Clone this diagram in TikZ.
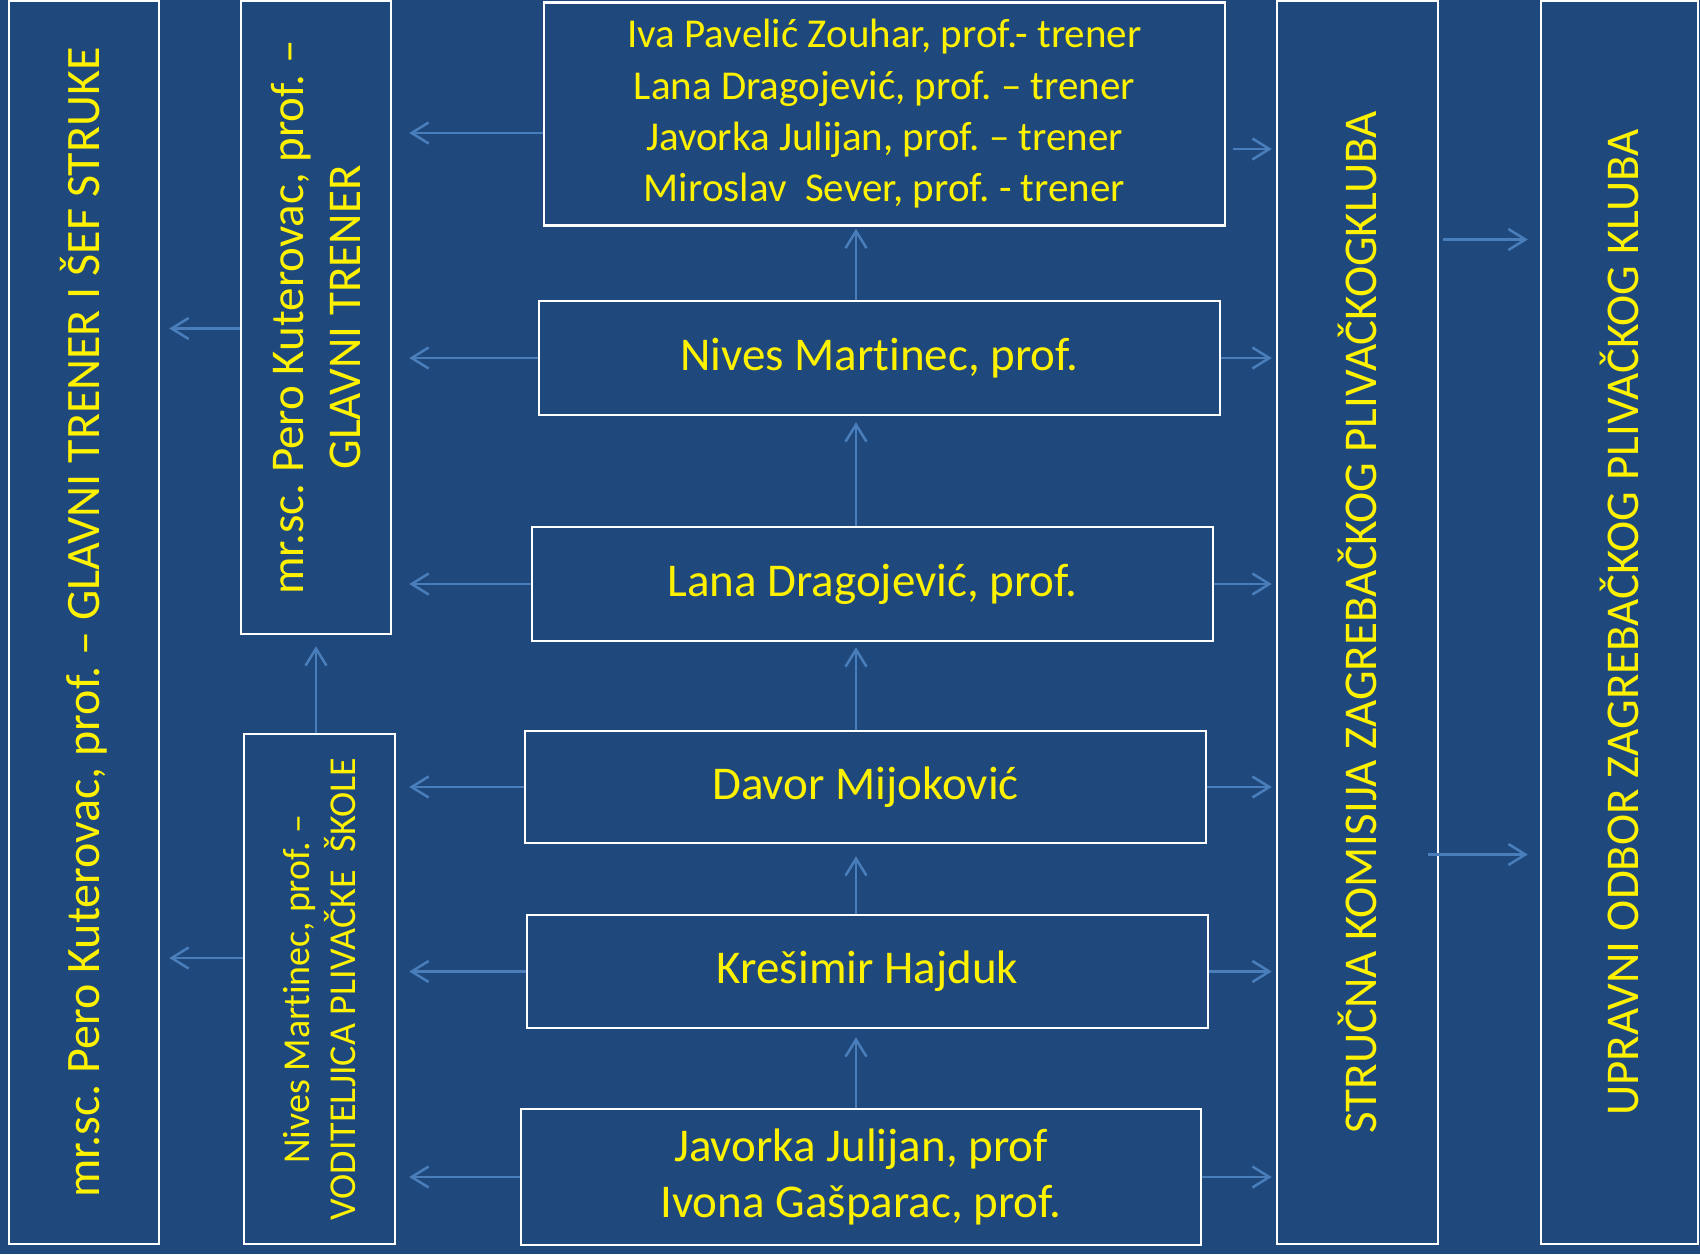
\documentclass[tikz,border=0pt]{standalone}
\usepackage{fontspec}
\setmainfont[Ligatures={NoCommon,NoContextual}, Contextuals=NoAlternate]{Carlito}
\usetikzlibrary{arrows.meta}
\definecolor{slideblue}{HTML}{1F497D}
\definecolor{linkblue}{HTML}{4A7EBB}
\frenchspacing
\begin{document}
\begin{tikzpicture}[x=1pt, y=-1pt,
        box/.style={draw=white, line width=2.5pt, fill=slideblue, text=yellow, align=center, inner sep=0pt, font=\fontsize{47}{56.4}\selectfont},
        upbox/.style={box, rotate=90},
        link/.style={draw=linkblue, line width=2.5pt, -{Straight Barb[length=17pt, width=21pt]}}]
        \fill[slideblue] (0, 0) rectangle (1700, 1254);
        \useasboundingbox (0, 0) rectangle (1700, 1254);
        \node[upbox, minimum width=1243pt, minimum height=150pt, font=\fontsize{48}{57}\selectfont] (sef) at (84, 622.5) {mr.sc. Pero Kuterovac, prof. – GLAVNI TRENER I ŠEF STRUKE};
        \node[upbox, minimum width=633pt, minimum height=150pt, font=\fontsize{47}{57.5}\selectfont] (glavni) at (316, 317.5) {mr.sc. Pero Kuterovac, prof. –\\GLAVNI TRENER};
        \node[upbox, minimum width=510pt, minimum height=151pt, font=\fontsize{38}{46.6}\selectfont] (voditeljica) at (319.5, 989) {Nives Martinec, prof. –\\VODITELJICA PLIVAČKE\ \ ŠKOLE};
        \node[box, minimum width=681pt, minimum height=223pt, font=\fontsize{41}{51.3}\selectfont] (treneri) at (884.5, 114) {Iva Pavelić Zouhar, prof.- trener\\Lana Dragojević, prof. – trener\\Javorka Julijan, prof. – trener\\Miroslav\ \ Sever, prof. - trener};
        \node[box, minimum width=681pt, minimum height=114pt] (nives) at (879.5, 358) {Nives Martinec, prof.};
        \node[box, minimum width=681pt, minimum height=114pt] (lana) at (872.5, 584) {Lana Dragojević, prof.};
        \node[box, minimum width=681pt, minimum height=112pt] (davor) at (865.5, 787) {Davor Mijoković};
        \node[box, minimum width=681pt, minimum height=113pt] (kresimir) at (867.5, 971.5) {Krešimir Hajduk};
        \node[box, minimum width=680pt, minimum height=136pt] (javorka) at (861, 1177) {Javorka Julijan, prof\\Ivona Gašparac, prof.};
        \node[upbox, minimum width=1243pt, minimum height=161pt] (strucna) at (1357.5, 622.5) {STRUČNA KOMISIJA ZAGREBAČKOG PLIVAČKOGKLUBA};
        \node[upbox, minimum width=1243pt, minimum height=157pt] (upravni) at (1619.5, 622.5) {UPRAVNI ODBOR ZAGREBAČKOG PLIVAČKOG KLUBA};
        \coordinate (spine) at (856, 0);
        \coordinate (treneri-l) at ([yshift=-19pt]treneri.west);
        \coordinate (treneri-r) at ([yshift=-35pt]treneri.east);
        \coordinate (glavni-l) at ([yshift=-11pt]glavni.north);
        \coordinate (voditeljica-l) at ([yshift=31pt]voditeljica.north);
        \coordinate (strucna-gore) at ([yshift=383pt]strucna.south);
        \coordinate (strucna-dolje) at ([yshift=-232pt, xshift=-11pt]strucna.south);
        \draw[link, shorten >=17pt] (treneri-l) -- (treneri-l -| glavni.south);
        \draw[link, shorten >=17pt] (nives.west) -- (nives.west -| glavni.south);
        \draw[link, shorten >=17pt] (lana.west) -- (lana.west -| glavni.south);
        \draw[link, shorten >=13pt] (davor.west) -- (davor.west -| voditeljica.south);
        \draw[link, shorten >=13pt] (kresimir.west) -- (kresimir.west -| voditeljica.south);
        \draw[link, shorten >=13pt] (javorka.west) -- (javorka.west -| voditeljica.south);
        \draw[link, shorten >=9pt] (glavni-l) -- (glavni-l -| sef.south);
        \draw[link, shorten >=9pt] (voditeljica-l) -- (voditeljica-l -| sef.south);
        \draw[link, shorten >=11pt] (glavni.west |- voditeljica.east) -- (glavni.west);
        \draw[link, shorten >=2pt] (nives.north -| spine) -- (treneri.south -| spine);
        \draw[link, shorten >=6pt] (lana.north -| spine) -- (nives.south -| spine);
        \draw[link, shorten >=5pt] (davor.north -| spine) -- (lana.south -| spine);
        \draw[link, shorten >=12pt] (kresimir.north -| spine) -- (davor.south -| spine);
        \draw[link, shorten >=8pt] (javorka.north -| spine) -- (kresimir.south -| spine);
        \draw[link, shorten <=7pt, shorten >=4pt] (treneri-r) -- (treneri-r -| strucna.north);
        \draw[link, shorten >=4pt] (nives.east) -- (nives.east -| strucna.north);
        \draw[link, shorten >=4pt] (lana.east) -- (lana.east -| strucna.north);
        \draw[link, shorten >=4pt] (davor.east) -- (davor.east -| strucna.north);
        \draw[link, shorten >=4pt] (kresimir.east) -- (kresimir.east -| strucna.north);
        \draw[link, shorten >=4pt] (javorka.east) -- (javorka.east -| strucna.north);
        \draw[link, shorten <=4pt, shorten >=12pt] (strucna-gore) -- (strucna-gore -| upravni.north);
        \draw[link, shorten >=12pt] (strucna-dolje) -- (strucna-dolje -| upravni.north);
\end{tikzpicture}
\end{document}
